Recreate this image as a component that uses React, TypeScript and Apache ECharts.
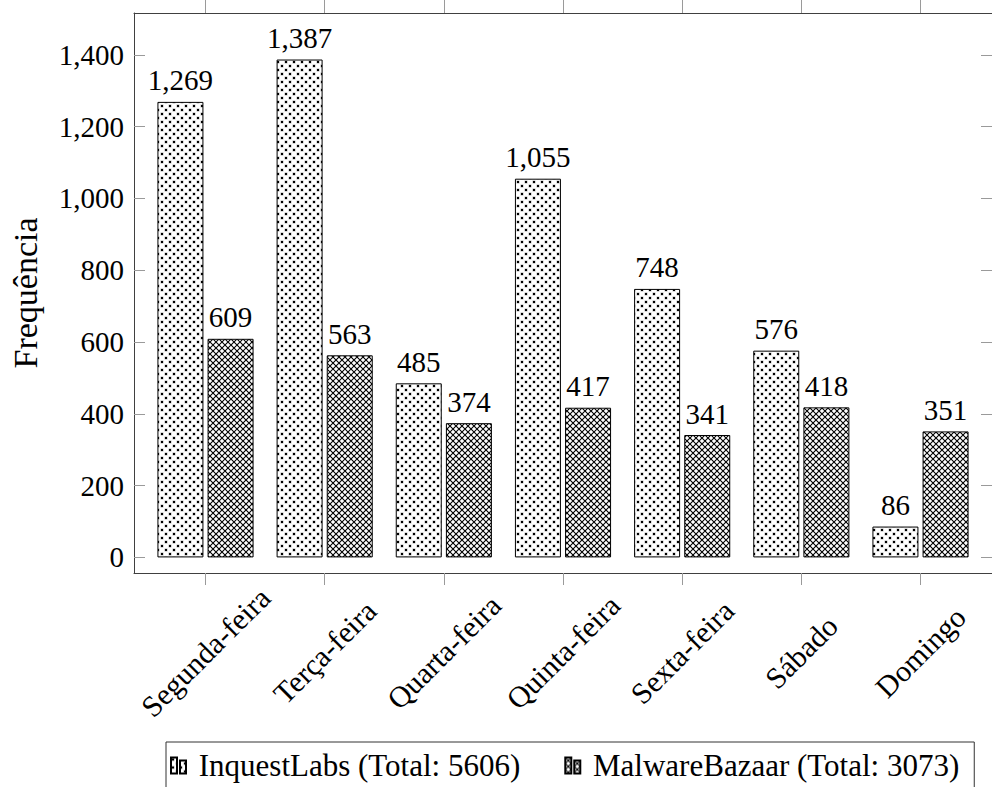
import React, { useEffect, useRef } from "react";
import * as echarts from "echarts";

// Weekday categories and per-source sample counts
const days = [
  "Segunda-feira",
  "Terça-feira",
  "Quarta-feira",
  "Quinta-feira",
  "Sexta-feira",
  "Sábado",
  "Domingo",
];
const inquestLabs = [1269, 1387, 485, 1055, 748, 576, 86];
const malwareBazaar = [609, 563, 374, 417, 341, 418, 351];
const yTickValues = [0, 200, 400, 600, 800, 1000, 1200, 1400];
const xTickValues = [0, 1, 2, 3, 4, 5, 6];

const FONT = "Liberation Serif";

const fmt = (v: number) => Math.round(v).toLocaleString("en-US");
const total = (arr: number[]) => arr.reduce((a, b) => a + b, 0);

const svgUrl = (svg: string) =>
  "data:image/svg+xml;charset=utf-8," + encodeURIComponent(svg);

// staggered dot fill
const dotsPattern = {
  image: svgUrl(
    "<svg xmlns='http://www.w3.org/2000/svg' width='8' height='8'>" +
      "<rect width='8' height='8' fill='white'/>" +
      "<rect x='0.5' y='0.5' width='3' height='3' fill='#b4b4b4'/>" +
      "<rect x='1' y='1' width='2' height='2' fill='black'/>" +
      "<rect x='4.5' y='4.5' width='3' height='3' fill='#b4b4b4'/>" +
      "<rect x='5' y='5' width='2' height='2' fill='black'/>" +
      "</svg>"
  ),
  repeat: "repeat",
  imageWidth: 8,
  imageHeight: 8,
};

// diagonal crosshatch fill
const crossPattern = {
  image: svgUrl(
    "<svg xmlns='http://www.w3.org/2000/svg' width='6' height='6'>" +
      "<rect width='6' height='6' fill='white'/>" +
      "<path d='M-1,-1L7,7M7,-1L-1,7' stroke='black' stroke-width='1.1'/>" +
      "</svg>"
  ),
  repeat: "repeat",
  imageWidth: 6,
  imageHeight: 6,
};

const AXIS_COLOR = "#404040";
const TICK_COLOR = "#9a9a9a";

export default function App() {
  const ref = useRef<HTMLDivElement>(null);

  useEffect(() => {
    if (!ref.current) return;
    const chart = echarts.init(ref.current, undefined, { renderer: "svg" });

    const nameA = `InquestLabs (Total: ${total(inquestLabs)})`;
    const nameB = `MalwareBazaar (Total: ${total(malwareBazaar)})`;

    const labelStyle = {
      show: true,
      position: "top",
      distance: 7,
      fontFamily: FONT,
      fontSize: 29,
      color: "#000",
      formatter: (p: any) => fmt(p.value[1]),
    };

    const xBase = {
      type: "value",
      min: -0.6,
      max: 6.6,
      splitLine: { show: false },
      axisLine: {
        show: true,
        onZero: false,
        lineStyle: { color: AXIS_COLOR, width: 1 },
      },
    };
    const yBase = {
      type: "value",
      min: -43.4,
      max: 1516.6,
      splitLine: { show: false },
      axisLine: {
        show: true,
        onZero: false,
        lineStyle: { color: AXIS_COLOR, width: 1 },
      },
    };

    chart.setOption({
      animation: false,
      backgroundColor: "#fff",
      grid: { left: 133, top: 13, width: 864, height: 560, containLabel: false },
      xAxis: [
        {
          ...xBase,
          position: "bottom",
          axisTick: {
            show: true,
            length: 12,
            customValues: xTickValues,
            lineStyle: { color: TICK_COLOR },
          },
          axisLabel: {
            show: true,
            customValues: xTickValues,
            formatter: (v: number) => days[Math.round(v)] ?? "",
            rotate: 45,
            align: "center",
            verticalAlign: "middle",
            margin: 79,
            fontFamily: FONT,
            fontSize: 30,
            color: "#000",
          },
        },
        {
          ...xBase,
          position: "top",
          axisTick: {
            show: true,
            length: 13,
            customValues: xTickValues,
            lineStyle: { color: TICK_COLOR },
          },
          axisLabel: { show: false },
        },
      ],
      yAxis: [
        {
          ...yBase,
          position: "left",
          name: "Frequência",
          nameLocation: "middle",
          nameGap: 92,
          nameTextStyle: { fontFamily: FONT, fontSize: 34, color: "#000" },
          axisTick: {
            show: true,
            inside: true,
            length: 11,
            customValues: yTickValues,
            lineStyle: { color: TICK_COLOR },
          },
          axisLabel: {
            show: true,
            customValues: yTickValues,
            formatter: (v: number) => fmt(v),
            margin: 10,
            fontFamily: FONT,
            fontSize: 29,
            color: "#000",
          },
        },
        {
          ...yBase,
          position: "right",
          axisTick: {
            show: true,
            inside: true,
            length: 11,
            customValues: yTickValues,
            lineStyle: { color: TICK_COLOR },
          },
          axisLabel: { show: false },
        },
      ],
      legend: {
        data: [nameA, nameB],
        left: 166,
        top: 742,
        orient: "horizontal",
        borderColor: "#333",
        borderWidth: 1,
        borderRadius: 0,
        padding: [8, 15, 8, 4],
        itemGap: 44,
        itemWidth: 15,
        itemHeight: 16,
        icon: "path://M0,0H6V16H0Z M9,3H15V16H9Z",
        formatter: (n: string) => " " + n,
        textStyle: { fontFamily: FONT, fontSize: 31, color: "#000" },
      },
      series: [
        {
          name: nameA,
          type: "bar",
          xAxisIndex: 0,
          yAxisIndex: 0,
          barWidth: 46,
          barGap: "9%",
          data: inquestLabs.map((v, i) => [i, v]),
          itemStyle: { color: dotsPattern, borderColor: "#000", borderWidth: 1 },
          label: labelStyle,
        },
        {
          name: nameB,
          type: "bar",
          xAxisIndex: 0,
          yAxisIndex: 0,
          barWidth: 46,
          barGap: "9%",
          data: malwareBazaar.map((v, i) => [i, v]),
          itemStyle: { color: crossPattern, borderColor: "#000", borderWidth: 1 },
          label: labelStyle,
        },
      ],
    });

    return () => chart.dispose();
  }, []);

  return (
    <div
      ref={ref}
      style={{ position: "fixed", left: 0, top: 0, width: 992, height: 787 }}
    />
  );
}
